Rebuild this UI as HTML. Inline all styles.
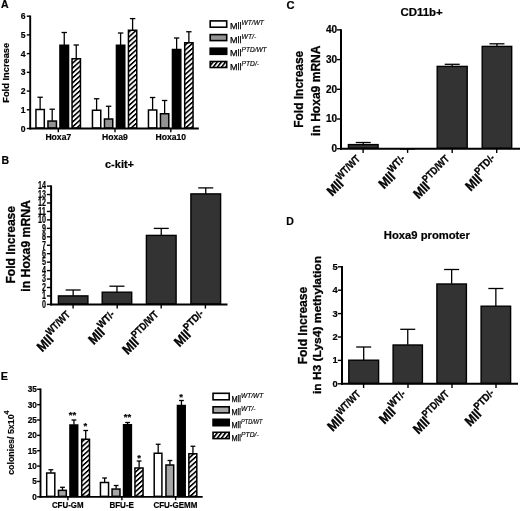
<!DOCTYPE html>
<html><head><meta charset="utf-8"><title>Figure</title>
<style>
html,body{margin:0;padding:0;background:#fff;}
svg{display:block;font-family:"Liberation Sans",sans-serif;will-change:transform;}
</style></head><body>
<svg width="520" height="511" viewBox="0 0 520 511">
<defs>
<pattern id="hb" width="20" height="4.9" patternUnits="userSpaceOnUse" patternTransform="skewY(-42)">
<rect width="20" height="4.9" fill="#fff"/><rect width="20" height="2.2" fill="#000"/></pattern>
<pattern id="hl" width="4.2" height="20" patternUnits="userSpaceOnUse" patternTransform="skewX(-38)">
<rect width="4.2" height="20" fill="#fff"/><rect width="2.1" height="20" fill="#000"/></pattern>
</defs>
<rect width="520" height="511" fill="#fff"/>

<g id="pA">
<text x="1" y="8.1" font-size="10.5" font-weight="bold" font-style="normal" text-anchor="start"  stroke="#000" stroke-width="0.2">A</text>
<line x1="40.125" y1="97.25" x2="40.125" y2="109.25" stroke="#000" stroke-width="1.3"/>
<line x1="37.425" y1="97.25" x2="42.825" y2="97.25" stroke="#000" stroke-width="1.3"/>
<rect x="35.95" y="109.50" width="8.35" height="18.55" fill="#fff" stroke="#000" stroke-width="1.5"/>
<line x1="52.2" y1="109.2" x2="52.2" y2="120.8" stroke="#000" stroke-width="1.3"/>
<line x1="49.5" y1="109.2" x2="54.900000000000006" y2="109.2" stroke="#000" stroke-width="1.3"/>
<rect x="47.95" y="121.05" width="8.50" height="7.00" fill="#939393" stroke="#000" stroke-width="1.5"/>
<line x1="64.25" y1="32.5" x2="64.25" y2="45.0" stroke="#000" stroke-width="1.3"/>
<line x1="61.55" y1="32.5" x2="66.95" y2="32.5" stroke="#000" stroke-width="1.3"/>
<rect x="59.95" y="45.25" width="8.60" height="82.80" fill="#000" stroke="#000" stroke-width="1.5"/>
<line x1="76.25" y1="45" x2="76.25" y2="58.5" stroke="#000" stroke-width="1.3"/>
<line x1="73.55" y1="45" x2="78.95" y2="45" stroke="#000" stroke-width="1.3"/>
<rect x="72.05" y="58.75" width="8.40" height="69.30" fill="url(#hb)" stroke="#000" stroke-width="1.5"/>
<line x1="96.6" y1="98.75" x2="96.6" y2="110.0" stroke="#000" stroke-width="1.3"/>
<line x1="93.89999999999999" y1="98.75" x2="99.3" y2="98.75" stroke="#000" stroke-width="1.3"/>
<rect x="92.45" y="110.25" width="8.30" height="17.80" fill="#fff" stroke="#000" stroke-width="1.5"/>
<line x1="108.6" y1="106.25" x2="108.6" y2="118.75" stroke="#000" stroke-width="1.3"/>
<line x1="105.89999999999999" y1="106.25" x2="111.3" y2="106.25" stroke="#000" stroke-width="1.3"/>
<rect x="104.45" y="119.00" width="8.30" height="9.05" fill="#939393" stroke="#000" stroke-width="1.5"/>
<line x1="120.6" y1="33" x2="120.6" y2="45.0" stroke="#000" stroke-width="1.3"/>
<line x1="117.89999999999999" y1="33" x2="123.3" y2="33" stroke="#000" stroke-width="1.3"/>
<rect x="116.45" y="45.25" width="8.30" height="82.80" fill="#000" stroke="#000" stroke-width="1.5"/>
<line x1="132.6" y1="18.6" x2="132.6" y2="30.0" stroke="#000" stroke-width="1.3"/>
<line x1="129.9" y1="18.6" x2="135.29999999999998" y2="18.6" stroke="#000" stroke-width="1.3"/>
<rect x="128.45" y="30.25" width="8.30" height="97.80" fill="url(#hb)" stroke="#000" stroke-width="1.5"/>
<line x1="152.6" y1="97.5" x2="152.6" y2="109.75" stroke="#000" stroke-width="1.3"/>
<line x1="149.9" y1="97.5" x2="155.29999999999998" y2="97.5" stroke="#000" stroke-width="1.3"/>
<rect x="148.45" y="110.00" width="8.30" height="18.05" fill="#fff" stroke="#000" stroke-width="1.5"/>
<line x1="164.625" y1="100.5" x2="164.625" y2="113.5" stroke="#000" stroke-width="1.3"/>
<line x1="161.925" y1="100.5" x2="167.325" y2="100.5" stroke="#000" stroke-width="1.3"/>
<rect x="160.45" y="113.75" width="8.35" height="14.30" fill="#939393" stroke="#000" stroke-width="1.5"/>
<line x1="176.625" y1="38" x2="176.625" y2="49.25" stroke="#000" stroke-width="1.3"/>
<line x1="173.925" y1="38" x2="179.325" y2="38" stroke="#000" stroke-width="1.3"/>
<rect x="172.45" y="49.50" width="8.35" height="78.55" fill="#000" stroke="#000" stroke-width="1.5"/>
<line x1="188.875" y1="31.75" x2="188.875" y2="42.5" stroke="#000" stroke-width="1.3"/>
<line x1="186.175" y1="31.75" x2="191.575" y2="31.75" stroke="#000" stroke-width="1.3"/>
<rect x="184.70" y="42.75" width="8.35" height="85.30" fill="url(#hb)" stroke="#000" stroke-width="1.5"/>
<line x1="30.2" y1="15.5" x2="30.2" y2="129.4" stroke="#000" stroke-width="1.9"/>
<line x1="29.25" y1="128.5" x2="198.8" y2="128.5" stroke="#000" stroke-width="1.8"/>
<line x1="26.8" y1="128.5" x2="30.2" y2="128.5" stroke="#000" stroke-width="1.4"/>
<text x="25.6" y="131.6" font-size="8.6" font-weight="bold" font-style="normal" text-anchor="end"  stroke="#000" stroke-width="0.2">0</text>
<line x1="26.8" y1="109.78" x2="30.2" y2="109.78" stroke="#000" stroke-width="1.4"/>
<text x="25.6" y="112.88" font-size="8.6" font-weight="bold" font-style="normal" text-anchor="end"  stroke="#000" stroke-width="0.2">1</text>
<line x1="26.8" y1="91.06" x2="30.2" y2="91.06" stroke="#000" stroke-width="1.4"/>
<text x="25.6" y="94.16" font-size="8.6" font-weight="bold" font-style="normal" text-anchor="end"  stroke="#000" stroke-width="0.2">2</text>
<line x1="26.8" y1="72.34" x2="30.2" y2="72.34" stroke="#000" stroke-width="1.4"/>
<text x="25.6" y="75.44" font-size="8.6" font-weight="bold" font-style="normal" text-anchor="end"  stroke="#000" stroke-width="0.2">3</text>
<line x1="26.8" y1="53.620000000000005" x2="30.2" y2="53.620000000000005" stroke="#000" stroke-width="1.4"/>
<text x="25.6" y="56.720000000000006" font-size="8.6" font-weight="bold" font-style="normal" text-anchor="end"  stroke="#000" stroke-width="0.2">4</text>
<line x1="26.8" y1="34.900000000000006" x2="30.2" y2="34.900000000000006" stroke="#000" stroke-width="1.4"/>
<text x="25.6" y="38.00000000000001" font-size="8.6" font-weight="bold" font-style="normal" text-anchor="end"  stroke="#000" stroke-width="0.2">5</text>
<line x1="26.8" y1="16.180000000000007" x2="30.2" y2="16.180000000000007" stroke="#000" stroke-width="1.4"/>
<text x="25.6" y="19.28000000000001" font-size="8.6" font-weight="bold" font-style="normal" text-anchor="end"  stroke="#000" stroke-width="0.2">6</text>
<line x1="58.3" y1="128.5" x2="58.3" y2="132.2" stroke="#000" stroke-width="1.4"/>
<text x="58.3" y="139.7" font-size="8.6" font-weight="bold" font-style="normal" text-anchor="middle"  stroke="#000" stroke-width="0.2">Hoxa7</text>
<line x1="115" y1="128.5" x2="115" y2="132.2" stroke="#000" stroke-width="1.4"/>
<text x="115" y="139.7" font-size="8.6" font-weight="bold" font-style="normal" text-anchor="middle"  stroke="#000" stroke-width="0.2">Hoxa9</text>
<line x1="170.8" y1="128.5" x2="170.8" y2="132.2" stroke="#000" stroke-width="1.4"/>
<text x="170.8" y="139.7" font-size="8.6" font-weight="bold" font-style="normal" text-anchor="middle"  stroke="#000" stroke-width="0.2">Hoxa10</text>
<text x="8.6" y="72.8" font-size="9.3" font-weight="bold" font-style="normal" text-anchor="middle" transform="rotate(-90 8.6 72.8)"  stroke="#000" stroke-width="0.2">Fold Increase</text>
<rect x="210.20" y="20.90" width="16.50" height="6.30" fill="#fff" stroke="#000" stroke-width="1.6"/>
<text x="229.9" y="29.25" font-size="9" font-weight="normal" stroke="#000" stroke-width="0.25" textLength="11.5" lengthAdjust="spacingAndGlyphs">Mll</text>
<text x="241.6" y="25.25" font-size="7.0" font-weight="normal" font-style="italic" stroke="#000" stroke-width="0.15" textLength="22.3" lengthAdjust="spacingAndGlyphs">WT/WT</text>
<rect x="210.20" y="34.60" width="16.50" height="6.00" fill="#939393" stroke="#000" stroke-width="1.6"/>
<text x="229.9" y="42.75" font-size="9" font-weight="normal" stroke="#000" stroke-width="0.25" textLength="11.5" lengthAdjust="spacingAndGlyphs">Mll</text>
<text x="241.6" y="38.75" font-size="7.0" font-weight="normal" font-style="italic" stroke="#000" stroke-width="0.15" textLength="14.6" lengthAdjust="spacingAndGlyphs">WT/-</text>
<rect x="210.20" y="48.20" width="16.50" height="6.10" fill="#000" stroke="#000" stroke-width="1.6"/>
<text x="229.9" y="56.25" font-size="9" font-weight="normal" stroke="#000" stroke-width="0.25" textLength="11.5" lengthAdjust="spacingAndGlyphs">Mll</text>
<text x="241.6" y="52.25" font-size="7.0" font-weight="normal" font-style="italic" stroke="#000" stroke-width="0.15" textLength="25" lengthAdjust="spacingAndGlyphs">PTD/WT</text>
<rect x="210.20" y="61.50" width="16.50" height="6.00" fill="url(#hl)" stroke="#000" stroke-width="1.6"/>
<text x="229.9" y="69.75" font-size="9" font-weight="normal" stroke="#000" stroke-width="0.25" textLength="11.5" lengthAdjust="spacingAndGlyphs">Mll</text>
<text x="241.6" y="65.75" font-size="7.0" font-weight="normal" font-style="italic" stroke="#000" stroke-width="0.15" textLength="17.4" lengthAdjust="spacingAndGlyphs">PTD/-</text>
</g>
<g id="pB">
<text x="1.6" y="163.5" font-size="10.5" font-weight="bold" font-style="normal" text-anchor="start"  stroke="#000" stroke-width="0.2">B</text>
<text x="105" y="168" font-size="11" font-weight="bold" font-style="normal" text-anchor="start"  stroke="#000" stroke-width="0.2">c-kit+</text>
<line x1="73.15" y1="290" x2="73.15" y2="295.7" stroke="#000" stroke-width="1.3"/>
<line x1="65.65" y1="290" x2="80.65" y2="290" stroke="#000" stroke-width="1.3"/>
<rect x="58.40" y="295.90" width="29.50" height="8.10" fill="#333333" stroke="#000" stroke-width="1.4"/>
<line x1="116.95" y1="286.2" x2="116.95" y2="292.0" stroke="#000" stroke-width="1.3"/>
<line x1="109.45" y1="286.2" x2="124.45" y2="286.2" stroke="#000" stroke-width="1.3"/>
<rect x="102.20" y="292.20" width="29.50" height="11.80" fill="#333333" stroke="#000" stroke-width="1.4"/>
<line x1="161.25" y1="228.4" x2="161.25" y2="235.2" stroke="#000" stroke-width="1.3"/>
<line x1="153.75" y1="228.4" x2="168.75" y2="228.4" stroke="#000" stroke-width="1.3"/>
<rect x="146.40" y="235.40" width="29.70" height="68.60" fill="#333333" stroke="#000" stroke-width="1.4"/>
<line x1="205.75" y1="187.9" x2="205.75" y2="193.7" stroke="#000" stroke-width="1.3"/>
<line x1="198.25" y1="187.9" x2="213.25" y2="187.9" stroke="#000" stroke-width="1.3"/>
<rect x="190.90" y="193.90" width="29.70" height="110.10" fill="#333333" stroke="#000" stroke-width="1.4"/>
<line x1="51.1" y1="185.4" x2="51.1" y2="305.4" stroke="#000" stroke-width="2.0"/>
<line x1="50.1" y1="304.4" x2="227.5" y2="304.4" stroke="#000" stroke-width="2.0"/>
<line x1="46.9" y1="304.4" x2="51.1" y2="304.4" stroke="#000" stroke-width="1.4"/>
<text x="45.9" y="307.708" font-size="10.3" font-weight="bold" font-style="normal" text-anchor="end" textLength="4.0" lengthAdjust="spacingAndGlyphs"  stroke="#000" stroke-width="0.2">0</text>
<line x1="46.9" y1="295.95" x2="51.1" y2="295.95" stroke="#000" stroke-width="1.4"/>
<text x="45.9" y="299.25800000000004" font-size="10.3" font-weight="bold" font-style="normal" text-anchor="end" textLength="4.0" lengthAdjust="spacingAndGlyphs"  stroke="#000" stroke-width="0.2">1</text>
<line x1="46.9" y1="287.5" x2="51.1" y2="287.5" stroke="#000" stroke-width="1.4"/>
<text x="45.9" y="290.80800000000005" font-size="10.3" font-weight="bold" font-style="normal" text-anchor="end" textLength="4.0" lengthAdjust="spacingAndGlyphs"  stroke="#000" stroke-width="0.2">2</text>
<line x1="46.9" y1="279.04999999999995" x2="51.1" y2="279.04999999999995" stroke="#000" stroke-width="1.4"/>
<text x="45.9" y="282.358" font-size="10.3" font-weight="bold" font-style="normal" text-anchor="end" textLength="4.0" lengthAdjust="spacingAndGlyphs"  stroke="#000" stroke-width="0.2">3</text>
<line x1="46.9" y1="270.59999999999997" x2="51.1" y2="270.59999999999997" stroke="#000" stroke-width="1.4"/>
<text x="45.9" y="273.908" font-size="10.3" font-weight="bold" font-style="normal" text-anchor="end" textLength="4.0" lengthAdjust="spacingAndGlyphs"  stroke="#000" stroke-width="0.2">4</text>
<line x1="46.9" y1="262.15" x2="51.1" y2="262.15" stroke="#000" stroke-width="1.4"/>
<text x="45.9" y="265.458" font-size="10.3" font-weight="bold" font-style="normal" text-anchor="end" textLength="4.0" lengthAdjust="spacingAndGlyphs"  stroke="#000" stroke-width="0.2">5</text>
<line x1="46.9" y1="253.7" x2="51.1" y2="253.7" stroke="#000" stroke-width="1.4"/>
<text x="45.9" y="257.00800000000004" font-size="10.3" font-weight="bold" font-style="normal" text-anchor="end" textLength="4.0" lengthAdjust="spacingAndGlyphs"  stroke="#000" stroke-width="0.2">6</text>
<line x1="46.9" y1="245.25" x2="51.1" y2="245.25" stroke="#000" stroke-width="1.4"/>
<text x="45.9" y="248.558" font-size="10.3" font-weight="bold" font-style="normal" text-anchor="end" textLength="4.0" lengthAdjust="spacingAndGlyphs"  stroke="#000" stroke-width="0.2">7</text>
<line x1="46.9" y1="236.79999999999998" x2="51.1" y2="236.79999999999998" stroke="#000" stroke-width="1.4"/>
<text x="45.9" y="240.10799999999998" font-size="10.3" font-weight="bold" font-style="normal" text-anchor="end" textLength="4.0" lengthAdjust="spacingAndGlyphs"  stroke="#000" stroke-width="0.2">8</text>
<line x1="46.9" y1="228.34999999999997" x2="51.1" y2="228.34999999999997" stroke="#000" stroke-width="1.4"/>
<text x="45.9" y="231.65799999999996" font-size="10.3" font-weight="bold" font-style="normal" text-anchor="end" textLength="4.0" lengthAdjust="spacingAndGlyphs"  stroke="#000" stroke-width="0.2">9</text>
<line x1="46.9" y1="219.89999999999998" x2="51.1" y2="219.89999999999998" stroke="#000" stroke-width="1.4"/>
<text x="45.9" y="223.20799999999997" font-size="10.3" font-weight="bold" font-style="normal" text-anchor="end" textLength="8.0" lengthAdjust="spacingAndGlyphs"  stroke="#000" stroke-width="0.2">10</text>
<line x1="46.9" y1="211.45" x2="51.1" y2="211.45" stroke="#000" stroke-width="1.4"/>
<text x="45.9" y="214.75799999999998" font-size="10.3" font-weight="bold" font-style="normal" text-anchor="end" textLength="8.0" lengthAdjust="spacingAndGlyphs"  stroke="#000" stroke-width="0.2">11</text>
<line x1="46.9" y1="203.0" x2="51.1" y2="203.0" stroke="#000" stroke-width="1.4"/>
<text x="45.9" y="206.308" font-size="10.3" font-weight="bold" font-style="normal" text-anchor="end" textLength="8.0" lengthAdjust="spacingAndGlyphs"  stroke="#000" stroke-width="0.2">12</text>
<line x1="46.9" y1="194.54999999999998" x2="51.1" y2="194.54999999999998" stroke="#000" stroke-width="1.4"/>
<text x="45.9" y="197.85799999999998" font-size="10.3" font-weight="bold" font-style="normal" text-anchor="end" textLength="8.0" lengthAdjust="spacingAndGlyphs"  stroke="#000" stroke-width="0.2">13</text>
<line x1="46.9" y1="186.1" x2="51.1" y2="186.1" stroke="#000" stroke-width="1.4"/>
<text x="45.9" y="189.408" font-size="10.3" font-weight="bold" font-style="normal" text-anchor="end" textLength="8.0" lengthAdjust="spacingAndGlyphs"  stroke="#000" stroke-width="0.2">14</text>
<line x1="73.1" y1="304.4" x2="73.1" y2="308.59999999999997" stroke="#000" stroke-width="1.4"/>
<g transform="translate(75.19999999999999 319.59999999999997) rotate(-45)">
<text x="-46.50" y="0" font-size="13.5" font-weight="bold" stroke="#000" stroke-width="0.35" textLength="17" lengthAdjust="spacingAndGlyphs">Mll</text>
<text x="-29.50" y="-6.2" font-size="10.5" font-weight="bold" stroke="#000" stroke-width="0.3" textLength="29.5" lengthAdjust="spacingAndGlyphs">WT/WT</text>
</g>
<line x1="117.2" y1="304.4" x2="117.2" y2="308.59999999999997" stroke="#000" stroke-width="1.4"/>
<g transform="translate(119.6535 319.24649999999997) rotate(-45)">
<text x="-36.80" y="0" font-size="13.5" font-weight="bold" stroke="#000" stroke-width="0.35" textLength="17" lengthAdjust="spacingAndGlyphs">Mll</text>
<text x="-19.80" y="-6.2" font-size="10.5" font-weight="bold" stroke="#000" stroke-width="0.3" textLength="19.8" lengthAdjust="spacingAndGlyphs">WT/-</text>
</g>
<line x1="161.2" y1="304.4" x2="161.2" y2="308.59999999999997" stroke="#000" stroke-width="1.4"/>
<g transform="translate(163.29999999999998 319.59999999999997) rotate(-45)">
<text x="-50.40" y="0" font-size="13.5" font-weight="bold" stroke="#000" stroke-width="0.35" textLength="17" lengthAdjust="spacingAndGlyphs">Mll</text>
<text x="-33.40" y="-6.2" font-size="10.5" font-weight="bold" stroke="#000" stroke-width="0.3" textLength="33.4" lengthAdjust="spacingAndGlyphs">PTD/WT</text>
</g>
<line x1="205.4" y1="304.4" x2="205.4" y2="308.59999999999997" stroke="#000" stroke-width="1.4"/>
<g transform="translate(208.5605 318.5395) rotate(-45)">
<text x="-41.00" y="0" font-size="13.5" font-weight="bold" stroke="#000" stroke-width="0.35" textLength="17" lengthAdjust="spacingAndGlyphs">Mll</text>
<text x="-24.00" y="-6.2" font-size="10.5" font-weight="bold" stroke="#000" stroke-width="0.3" textLength="24" lengthAdjust="spacingAndGlyphs">PTD/-</text>
</g>
<text x="14.6" y="244.8" font-size="13.2" font-weight="bold" font-style="normal" text-anchor="middle" transform="rotate(-90 14.6 244.8)" textLength="77.5" lengthAdjust="spacingAndGlyphs" stroke="#000" stroke-width="0.3">Fold Increase</text>
<text x="29.7" y="245.9" font-size="13.2" font-weight="bold" font-style="normal" text-anchor="middle" transform="rotate(-90 29.7 245.9)" textLength="91.5" lengthAdjust="spacingAndGlyphs" stroke="#000" stroke-width="0.3">in Hoxa9 mRNA</text>
</g>
<g id="pC">
<text x="286.4" y="9.0" font-size="11.2" font-weight="bold" font-style="normal" text-anchor="start"  stroke="#000" stroke-width="0.2">C</text>
<text x="400.5" y="16" font-size="11" font-weight="bold" font-style="normal" text-anchor="start" textLength="42.3" lengthAdjust="spacingAndGlyphs"  stroke="#000" stroke-width="0.2">CD11b+</text>
<line x1="363.25" y1="142.5" x2="363.25" y2="144.4" stroke="#000" stroke-width="1.3"/>
<line x1="355.75" y1="142.5" x2="370.75" y2="142.5" stroke="#000" stroke-width="1.3"/>
<rect x="348.40" y="144.60" width="29.70" height="3.70" fill="#333333" stroke="#000" stroke-width="1.4"/>
<line x1="407.5" y1="149" x2="407.5" y2="149.5" stroke="#000" stroke-width="1.3"/>
<line x1="400.0" y1="149" x2="415.0" y2="149" stroke="#000" stroke-width="1.3"/>
<line x1="452.2" y1="64.3" x2="452.2" y2="66.2" stroke="#000" stroke-width="1.3"/>
<line x1="444.7" y1="64.3" x2="459.7" y2="64.3" stroke="#000" stroke-width="1.3"/>
<rect x="437.20" y="66.40" width="30.00" height="81.90" fill="#333333" stroke="#000" stroke-width="1.4"/>
<line x1="496.95" y1="43.8" x2="496.95" y2="46.2" stroke="#000" stroke-width="1.3"/>
<line x1="489.45" y1="43.8" x2="504.45" y2="43.8" stroke="#000" stroke-width="1.3"/>
<rect x="482.20" y="46.40" width="29.50" height="101.90" fill="#333333" stroke="#000" stroke-width="1.4"/>
<line x1="341" y1="29.2" x2="341" y2="149.7" stroke="#000" stroke-width="2.0"/>
<line x1="340.0" y1="148.7" x2="520" y2="148.7" stroke="#000" stroke-width="2.0"/>
<line x1="336.8" y1="148.7" x2="341" y2="148.7" stroke="#000" stroke-width="1.4"/>
<text x="337.1" y="151.89999999999998" font-size="10" font-weight="bold" font-style="normal" text-anchor="end"  stroke="#000" stroke-width="0.2">0</text>
<line x1="336.8" y1="118.99999999999999" x2="341" y2="118.99999999999999" stroke="#000" stroke-width="1.4"/>
<text x="337.1" y="122.19999999999997" font-size="10" font-weight="bold" font-style="normal" text-anchor="end"  stroke="#000" stroke-width="0.2">10</text>
<line x1="336.8" y1="89.29999999999998" x2="341" y2="89.29999999999998" stroke="#000" stroke-width="1.4"/>
<text x="337.1" y="92.49999999999997" font-size="10" font-weight="bold" font-style="normal" text-anchor="end"  stroke="#000" stroke-width="0.2">20</text>
<line x1="336.8" y1="59.599999999999994" x2="341" y2="59.599999999999994" stroke="#000" stroke-width="1.4"/>
<text x="337.1" y="62.8" font-size="10" font-weight="bold" font-style="normal" text-anchor="end"  stroke="#000" stroke-width="0.2">30</text>
<line x1="336.8" y1="29.89999999999999" x2="341" y2="29.89999999999999" stroke="#000" stroke-width="1.4"/>
<text x="337.1" y="33.099999999999994" font-size="10" font-weight="bold" font-style="normal" text-anchor="end"  stroke="#000" stroke-width="0.2">40</text>
<line x1="363.1" y1="148.7" x2="363.1" y2="152.89999999999998" stroke="#000" stroke-width="1.4"/>
<g transform="translate(365.20000000000005 163.89999999999998) rotate(-45)">
<text x="-46.50" y="0" font-size="13.5" font-weight="bold" stroke="#000" stroke-width="0.35" textLength="17" lengthAdjust="spacingAndGlyphs">Mll</text>
<text x="-29.50" y="-6.2" font-size="10.5" font-weight="bold" stroke="#000" stroke-width="0.3" textLength="29.5" lengthAdjust="spacingAndGlyphs">WT/WT</text>
</g>
<line x1="407.6" y1="148.7" x2="407.6" y2="152.89999999999998" stroke="#000" stroke-width="1.4"/>
<g transform="translate(410.05350000000004 163.54649999999998) rotate(-45)">
<text x="-36.80" y="0" font-size="13.5" font-weight="bold" stroke="#000" stroke-width="0.35" textLength="17" lengthAdjust="spacingAndGlyphs">Mll</text>
<text x="-19.80" y="-6.2" font-size="10.5" font-weight="bold" stroke="#000" stroke-width="0.3" textLength="19.8" lengthAdjust="spacingAndGlyphs">WT/-</text>
</g>
<line x1="452.2" y1="148.7" x2="452.2" y2="152.89999999999998" stroke="#000" stroke-width="1.4"/>
<g transform="translate(454.3 163.89999999999998) rotate(-45)">
<text x="-50.40" y="0" font-size="13.5" font-weight="bold" stroke="#000" stroke-width="0.35" textLength="17" lengthAdjust="spacingAndGlyphs">Mll</text>
<text x="-33.40" y="-6.2" font-size="10.5" font-weight="bold" stroke="#000" stroke-width="0.3" textLength="33.4" lengthAdjust="spacingAndGlyphs">PTD/WT</text>
</g>
<line x1="496.7" y1="148.7" x2="496.7" y2="152.89999999999998" stroke="#000" stroke-width="1.4"/>
<g transform="translate(499.8605 162.8395) rotate(-45)">
<text x="-41.00" y="0" font-size="13.5" font-weight="bold" stroke="#000" stroke-width="0.35" textLength="17" lengthAdjust="spacingAndGlyphs">Mll</text>
<text x="-24.00" y="-6.2" font-size="10.5" font-weight="bold" stroke="#000" stroke-width="0.3" textLength="24" lengthAdjust="spacingAndGlyphs">PTD/-</text>
</g>
<text x="303.2" y="89.25" font-size="13.4" font-weight="bold" font-style="normal" text-anchor="middle" transform="rotate(-90 303.2 89.25)" textLength="76.9" lengthAdjust="spacingAndGlyphs" stroke="#000" stroke-width="0.3">Fold Increase</text>
<text x="320.3" y="90.7" font-size="13.4" font-weight="bold" font-style="normal" text-anchor="middle" transform="rotate(-90 320.3 90.7)" textLength="90.4" lengthAdjust="spacingAndGlyphs" stroke="#000" stroke-width="0.3">in Hoxa9 mRNA</text>
</g>
<g id="pD">
<text x="286.3" y="225" font-size="10.5" font-weight="bold" font-style="normal" text-anchor="start"  stroke="#000" stroke-width="0.2">D</text>
<text x="383.8" y="238.8" font-size="11" font-weight="bold" font-style="normal" text-anchor="start" textLength="86.2" lengthAdjust="spacingAndGlyphs"  stroke="#000" stroke-width="0.2">Hoxa9 promoter</text>
<line x1="363.70000000000005" y1="347" x2="363.70000000000005" y2="360.0" stroke="#000" stroke-width="1.3"/>
<line x1="356.20000000000005" y1="347" x2="371.20000000000005" y2="347" stroke="#000" stroke-width="1.3"/>
<rect x="348.80" y="360.20" width="29.80" height="23.20" fill="#333333" stroke="#000" stroke-width="1.4"/>
<line x1="407.75" y1="329.3" x2="407.75" y2="344.8" stroke="#000" stroke-width="1.3"/>
<line x1="400.25" y1="329.3" x2="415.25" y2="329.3" stroke="#000" stroke-width="1.3"/>
<rect x="393.10" y="345.00" width="29.30" height="38.40" fill="#333333" stroke="#000" stroke-width="1.4"/>
<line x1="451.65" y1="269.5" x2="451.65" y2="283.8" stroke="#000" stroke-width="1.3"/>
<line x1="444.15" y1="269.5" x2="459.15" y2="269.5" stroke="#000" stroke-width="1.3"/>
<rect x="436.90" y="284.00" width="29.50" height="99.40" fill="#333333" stroke="#000" stroke-width="1.4"/>
<line x1="495.85" y1="288.5" x2="495.85" y2="306.0" stroke="#000" stroke-width="1.3"/>
<line x1="488.35" y1="288.5" x2="503.35" y2="288.5" stroke="#000" stroke-width="1.3"/>
<rect x="481.10" y="306.20" width="29.50" height="77.20" fill="#333333" stroke="#000" stroke-width="1.4"/>
<line x1="342" y1="266.1" x2="342" y2="384.8" stroke="#000" stroke-width="2.0"/>
<line x1="341.0" y1="383.8" x2="518" y2="383.8" stroke="#000" stroke-width="2.0"/>
<line x1="337.8" y1="383.8" x2="342" y2="383.8" stroke="#000" stroke-width="1.4"/>
<text x="337.6" y="386.74800000000005" font-size="9.3" font-weight="bold" font-style="normal" text-anchor="end"  stroke="#000" stroke-width="0.2">0</text>
<line x1="337.8" y1="360.40000000000003" x2="342" y2="360.40000000000003" stroke="#000" stroke-width="1.4"/>
<text x="337.6" y="363.34800000000007" font-size="9.3" font-weight="bold" font-style="normal" text-anchor="end"  stroke="#000" stroke-width="0.2">1</text>
<line x1="337.8" y1="337.0" x2="342" y2="337.0" stroke="#000" stroke-width="1.4"/>
<text x="337.6" y="339.94800000000004" font-size="9.3" font-weight="bold" font-style="normal" text-anchor="end"  stroke="#000" stroke-width="0.2">2</text>
<line x1="337.8" y1="313.6" x2="342" y2="313.6" stroke="#000" stroke-width="1.4"/>
<text x="337.6" y="316.54800000000006" font-size="9.3" font-weight="bold" font-style="normal" text-anchor="end"  stroke="#000" stroke-width="0.2">3</text>
<line x1="337.8" y1="290.20000000000005" x2="342" y2="290.20000000000005" stroke="#000" stroke-width="1.4"/>
<text x="337.6" y="293.1480000000001" font-size="9.3" font-weight="bold" font-style="normal" text-anchor="end"  stroke="#000" stroke-width="0.2">4</text>
<line x1="337.8" y1="266.8" x2="342" y2="266.8" stroke="#000" stroke-width="1.4"/>
<text x="337.6" y="269.74800000000005" font-size="9.3" font-weight="bold" font-style="normal" text-anchor="end"  stroke="#000" stroke-width="0.2">5</text>
<line x1="363.6" y1="383.8" x2="363.6" y2="388.0" stroke="#000" stroke-width="1.4"/>
<g transform="translate(365.70000000000005 399.0) rotate(-45)">
<text x="-46.50" y="0" font-size="13.5" font-weight="bold" stroke="#000" stroke-width="0.35" textLength="17" lengthAdjust="spacingAndGlyphs">Mll</text>
<text x="-29.50" y="-6.2" font-size="10.5" font-weight="bold" stroke="#000" stroke-width="0.3" textLength="29.5" lengthAdjust="spacingAndGlyphs">WT/WT</text>
</g>
<line x1="408" y1="383.8" x2="408" y2="388.0" stroke="#000" stroke-width="1.4"/>
<g transform="translate(410.4535 398.6465) rotate(-45)">
<text x="-36.80" y="0" font-size="13.5" font-weight="bold" stroke="#000" stroke-width="0.35" textLength="17" lengthAdjust="spacingAndGlyphs">Mll</text>
<text x="-19.80" y="-6.2" font-size="10.5" font-weight="bold" stroke="#000" stroke-width="0.3" textLength="19.8" lengthAdjust="spacingAndGlyphs">WT/-</text>
</g>
<line x1="452" y1="383.8" x2="452" y2="388.0" stroke="#000" stroke-width="1.4"/>
<g transform="translate(454.1 399.0) rotate(-45)">
<text x="-50.40" y="0" font-size="13.5" font-weight="bold" stroke="#000" stroke-width="0.35" textLength="17" lengthAdjust="spacingAndGlyphs">Mll</text>
<text x="-33.40" y="-6.2" font-size="10.5" font-weight="bold" stroke="#000" stroke-width="0.3" textLength="33.4" lengthAdjust="spacingAndGlyphs">PTD/WT</text>
</g>
<line x1="496" y1="383.8" x2="496" y2="388.0" stroke="#000" stroke-width="1.4"/>
<g transform="translate(499.1605 397.9395) rotate(-45)">
<text x="-41.00" y="0" font-size="13.5" font-weight="bold" stroke="#000" stroke-width="0.35" textLength="17" lengthAdjust="spacingAndGlyphs">Mll</text>
<text x="-24.00" y="-6.2" font-size="10.5" font-weight="bold" stroke="#000" stroke-width="0.3" textLength="24" lengthAdjust="spacingAndGlyphs">PTD/-</text>
</g>
<text x="306.6" y="325.6" font-size="13.3" font-weight="bold" font-style="normal" text-anchor="middle" transform="rotate(-90 306.6 325.6)" textLength="77.5" lengthAdjust="spacingAndGlyphs" stroke="#000" stroke-width="0.3">Fold Increase</text>
<text x="321.2" y="325" font-size="10.8" font-weight="bold" font-style="normal" text-anchor="middle" transform="rotate(-90 321.2 325)" textLength="138" lengthAdjust="spacingAndGlyphs" stroke="#000" stroke-width="0.3">in H3 (Lys4) methylation</text>
</g>
<g id="pE">
<text x="0.8" y="379.7" font-size="10.8" font-weight="bold" font-style="normal" text-anchor="start"  stroke="#000" stroke-width="0.2">E</text>
<line x1="50.875" y1="469.75" x2="50.875" y2="472.75" stroke="#000" stroke-width="1.3"/>
<line x1="48.475" y1="469.75" x2="53.275" y2="469.75" stroke="#000" stroke-width="1.3"/>
<rect x="46.70" y="473.00" width="8.10" height="23.35" fill="#fff" stroke="#000" stroke-width="1.5"/>
<line x1="62.5" y1="487.3" x2="62.5" y2="490.1" stroke="#000" stroke-width="1.3"/>
<line x1="60.1" y1="487.3" x2="64.9" y2="487.3" stroke="#000" stroke-width="1.3"/>
<rect x="58.45" y="490.35" width="7.85" height="6.00" fill="#a6a6a6" stroke="#000" stroke-width="1.5"/>
<line x1="73.95" y1="420" x2="73.95" y2="424.75" stroke="#000" stroke-width="1.3"/>
<line x1="71.55" y1="420" x2="76.35000000000001" y2="420" stroke="#000" stroke-width="1.3"/>
<rect x="69.95" y="425.00" width="7.75" height="71.35" fill="#000" stroke="#000" stroke-width="1.5"/>
<line x1="85.725" y1="430.5" x2="85.725" y2="439.0" stroke="#000" stroke-width="1.3"/>
<line x1="83.32499999999999" y1="430.5" x2="88.125" y2="430.5" stroke="#000" stroke-width="1.3"/>
<rect x="81.70" y="439.25" width="7.80" height="57.10" fill="url(#hb)" stroke="#000" stroke-width="1.5"/>
<line x1="104.625" y1="478" x2="104.625" y2="482.25" stroke="#000" stroke-width="1.3"/>
<line x1="102.225" y1="478" x2="107.025" y2="478" stroke="#000" stroke-width="1.3"/>
<rect x="100.45" y="482.50" width="8.10" height="13.85" fill="#fff" stroke="#000" stroke-width="1.5"/>
<line x1="116.15" y1="485.5" x2="116.15" y2="488.8" stroke="#000" stroke-width="1.3"/>
<line x1="113.75" y1="485.5" x2="118.55000000000001" y2="485.5" stroke="#000" stroke-width="1.3"/>
<rect x="112.05" y="489.05" width="7.95" height="7.30" fill="#a6a6a6" stroke="#000" stroke-width="1.5"/>
<line x1="127.6" y1="422.5" x2="127.6" y2="424.5" stroke="#000" stroke-width="1.3"/>
<line x1="125.19999999999999" y1="422.5" x2="130.0" y2="422.5" stroke="#000" stroke-width="1.3"/>
<rect x="123.55" y="424.75" width="7.85" height="71.60" fill="#000" stroke="#000" stroke-width="1.5"/>
<line x1="139.125" y1="461" x2="139.125" y2="467.75" stroke="#000" stroke-width="1.3"/>
<line x1="136.725" y1="461" x2="141.525" y2="461" stroke="#000" stroke-width="1.3"/>
<rect x="134.95" y="468.00" width="8.10" height="28.35" fill="url(#hb)" stroke="#000" stroke-width="1.5"/>
<line x1="158.175" y1="444.25" x2="158.175" y2="453.0" stroke="#000" stroke-width="1.3"/>
<line x1="155.775" y1="444.25" x2="160.57500000000002" y2="444.25" stroke="#000" stroke-width="1.3"/>
<rect x="154.20" y="453.25" width="7.70" height="43.10" fill="#fff" stroke="#000" stroke-width="1.5"/>
<line x1="169.95" y1="460.5" x2="169.95" y2="464.75" stroke="#000" stroke-width="1.3"/>
<line x1="167.54999999999998" y1="460.5" x2="172.35" y2="460.5" stroke="#000" stroke-width="1.3"/>
<rect x="165.95" y="465.00" width="7.75" height="31.35" fill="#a6a6a6" stroke="#000" stroke-width="1.5"/>
<line x1="181.45" y1="400.5" x2="181.45" y2="405.25" stroke="#000" stroke-width="1.3"/>
<line x1="179.04999999999998" y1="400.5" x2="183.85" y2="400.5" stroke="#000" stroke-width="1.3"/>
<rect x="177.45" y="405.50" width="7.75" height="90.85" fill="#000" stroke="#000" stroke-width="1.5"/>
<line x1="192.95" y1="446.25" x2="192.95" y2="453.5" stroke="#000" stroke-width="1.3"/>
<line x1="190.54999999999998" y1="446.25" x2="195.35" y2="446.25" stroke="#000" stroke-width="1.3"/>
<rect x="188.85" y="453.75" width="7.95" height="42.60" fill="url(#hb)" stroke="#000" stroke-width="1.5"/>
<line x1="40.5" y1="388.5" x2="40.5" y2="497.7" stroke="#000" stroke-width="1.9"/>
<line x1="39.55" y1="496.8" x2="202.7" y2="496.8" stroke="#000" stroke-width="1.8"/>
<line x1="37.1" y1="496.8" x2="40.5" y2="496.8" stroke="#000" stroke-width="1.4"/>
<text x="36.8" y="499.7" font-size="8.2" font-weight="bold" font-style="normal" text-anchor="end"  stroke="#000" stroke-width="0.2">0</text>
<line x1="37.1" y1="481.44" x2="40.5" y2="481.44" stroke="#000" stroke-width="1.4"/>
<text x="36.8" y="484.34" font-size="8.2" font-weight="bold" font-style="normal" text-anchor="end"  stroke="#000" stroke-width="0.2">5</text>
<line x1="37.1" y1="466.08000000000004" x2="40.5" y2="466.08000000000004" stroke="#000" stroke-width="1.4"/>
<text x="36.8" y="468.98" font-size="8.2" font-weight="bold" font-style="normal" text-anchor="end"  stroke="#000" stroke-width="0.2">10</text>
<line x1="37.1" y1="450.72" x2="40.5" y2="450.72" stroke="#000" stroke-width="1.4"/>
<text x="36.8" y="453.62" font-size="8.2" font-weight="bold" font-style="normal" text-anchor="end"  stroke="#000" stroke-width="0.2">15</text>
<line x1="37.1" y1="435.36" x2="40.5" y2="435.36" stroke="#000" stroke-width="1.4"/>
<text x="36.8" y="438.26" font-size="8.2" font-weight="bold" font-style="normal" text-anchor="end"  stroke="#000" stroke-width="0.2">20</text>
<line x1="37.1" y1="420.0" x2="40.5" y2="420.0" stroke="#000" stroke-width="1.4"/>
<text x="36.8" y="422.9" font-size="8.2" font-weight="bold" font-style="normal" text-anchor="end"  stroke="#000" stroke-width="0.2">25</text>
<line x1="37.1" y1="404.64" x2="40.5" y2="404.64" stroke="#000" stroke-width="1.4"/>
<text x="36.8" y="407.53999999999996" font-size="8.2" font-weight="bold" font-style="normal" text-anchor="end"  stroke="#000" stroke-width="0.2">30</text>
<line x1="37.1" y1="389.28000000000003" x2="40.5" y2="389.28000000000003" stroke="#000" stroke-width="1.4"/>
<text x="36.8" y="392.18" font-size="8.2" font-weight="bold" font-style="normal" text-anchor="end"  stroke="#000" stroke-width="0.2">35</text>
<line x1="67.9" y1="496.8" x2="67.9" y2="500.2" stroke="#000" stroke-width="1.4"/>
<text x="67.7" y="508.1" font-size="8.6" font-weight="bold" font-style="normal" text-anchor="middle" textLength="31.6" lengthAdjust="spacingAndGlyphs"  stroke="#000" stroke-width="0.2">CFU-GM</text>
<line x1="121.9" y1="496.8" x2="121.9" y2="500.2" stroke="#000" stroke-width="1.4"/>
<text x="121.7" y="508.1" font-size="8.6" font-weight="bold" font-style="normal" text-anchor="middle" textLength="24.6" lengthAdjust="spacingAndGlyphs"  stroke="#000" stroke-width="0.2">BFU-E</text>
<line x1="175.6" y1="496.8" x2="175.6" y2="500.2" stroke="#000" stroke-width="1.4"/>
<text x="175.4" y="508.1" font-size="8.6" font-weight="bold" font-style="normal" text-anchor="middle" textLength="44" lengthAdjust="spacingAndGlyphs"  stroke="#000" stroke-width="0.2">CFU-GEMM</text>
<text x="72.5" y="418.4" font-size="9.5" font-weight="bold" font-style="normal" text-anchor="middle"  stroke="#000" stroke-width="0.2">**</text>
<text x="85.4" y="429.4" font-size="9.5" font-weight="bold" font-style="normal" text-anchor="middle"  stroke="#000" stroke-width="0.2">*</text>
<text x="127.5" y="419.7" font-size="9.5" font-weight="bold" font-style="normal" text-anchor="middle"  stroke="#000" stroke-width="0.2">**</text>
<text x="139.1" y="460.8" font-size="9.5" font-weight="bold" font-style="normal" text-anchor="middle"  stroke="#000" stroke-width="0.2">*</text>
<text x="181" y="400.1" font-size="9.5" font-weight="bold" font-style="normal" text-anchor="middle"  stroke="#000" stroke-width="0.2">*</text>
<text transform="translate(14.3 442.6) rotate(-90)" font-size="8.85" font-weight="bold" text-anchor="middle" stroke="#000" stroke-width="0.15">colonies/ 5x10<tspan dy="-5.2" font-size="7.3">4</tspan></text>
<rect x="213.05" y="393.30" width="16.15" height="6.50" fill="#fff" stroke="#000" stroke-width="1.6"/>
<text x="231.5" y="402" font-size="8.7" font-weight="normal" stroke="#000" stroke-width="0.25" textLength="9.4" lengthAdjust="spacingAndGlyphs">Mll</text>
<text x="241.1" y="398.4" font-size="6.4" font-weight="normal" font-style="italic" stroke="#000" stroke-width="0.15" textLength="22.2" lengthAdjust="spacingAndGlyphs">WT/WT</text>
<rect x="213.05" y="406.80" width="16.15" height="6.10" fill="#a6a6a6" stroke="#000" stroke-width="1.6"/>
<text x="231.5" y="415.0" font-size="8.7" font-weight="normal" stroke="#000" stroke-width="0.25" textLength="9.4" lengthAdjust="spacingAndGlyphs">Mll</text>
<text x="241.1" y="411.4" font-size="6.4" font-weight="normal" font-style="italic" stroke="#000" stroke-width="0.15" textLength="14.5" lengthAdjust="spacingAndGlyphs">WT/-</text>
<rect x="213.05" y="419.30" width="16.15" height="6.40" fill="#000" stroke="#000" stroke-width="1.6"/>
<text x="231.5" y="427.8" font-size="8.7" font-weight="normal" stroke="#000" stroke-width="0.25" textLength="9.4" lengthAdjust="spacingAndGlyphs">Mll</text>
<text x="241.1" y="424.2" font-size="6.4" font-weight="normal" font-style="italic" stroke="#000" stroke-width="0.15" textLength="21.3" lengthAdjust="spacingAndGlyphs">PTD/WT</text>
<rect x="213.05" y="432.30" width="16.15" height="6.30" fill="url(#hl)" stroke="#000" stroke-width="1.6"/>
<text x="231.5" y="440.8" font-size="8.7" font-weight="normal" stroke="#000" stroke-width="0.25" textLength="9.4" lengthAdjust="spacingAndGlyphs">Mll</text>
<text x="241.1" y="437.2" font-size="6.4" font-weight="normal" font-style="italic" stroke="#000" stroke-width="0.15" textLength="17.6" lengthAdjust="spacingAndGlyphs">PTD/-</text>
</g>
</svg></body></html>
